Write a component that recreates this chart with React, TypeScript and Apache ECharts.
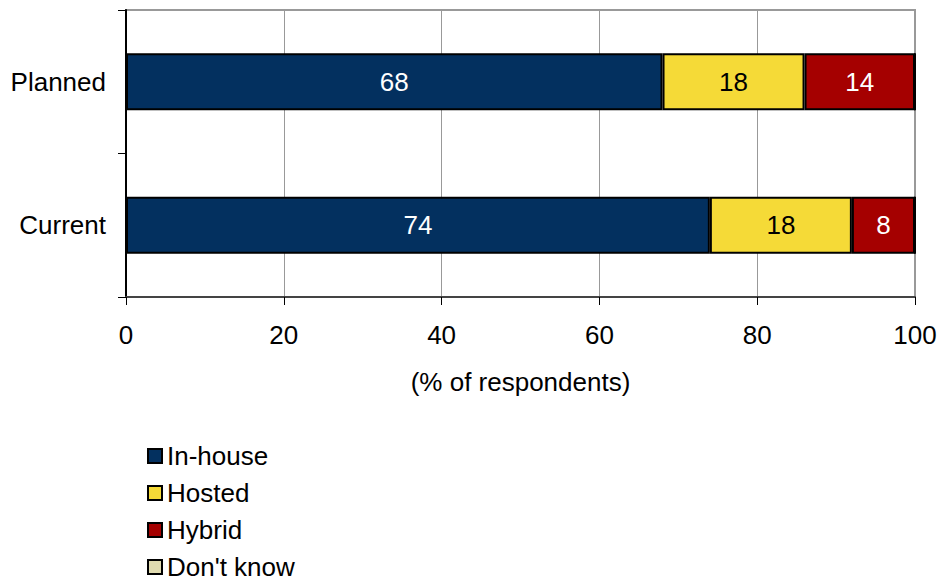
import React, { useEffect, useRef } from "react";
import * as echarts from "echarts";

const categories = ["Current", "Planned"];
const inHouse = [74, 68];
const hosted = [18, 18];
const hybrid = [8, 14];
const dontKnow = [0, 0];
const xTicks = [0, 20, 40, 60, 80, 100];

const FONT = "Liberation Sans, Arial, sans-serif";
const FS = 26;

export default function App() {
  const ref = useRef<HTMLDivElement>(null);
  useEffect(() => {
    const chart = echarts.init(ref.current!, null, { renderer: "svg" });
    const mk = (name: string, data: number[], color: string, labelColor: string) => ({
      name,
      type: "bar",
      stack: "s",
      data,
      barWidth: 57,
      itemStyle: { color, borderColor: "#000", borderWidth: 2 },
      label: {
        show: true,
        position: "inside",
        color: labelColor,
        fontSize: FS,
        fontFamily: FONT,
        formatter: (p: any) => (p.value ? String(p.value) : ""),
      },
    });
    chart.setOption({
      animation: false,
      grid: {
        left: 126,
        right: 27,
        top: 10,
        bottom: 285,
        show: true,
        borderColor: "#999",
        borderWidth: 2,
      },
      xAxis: {
        type: "value",
        min: xTicks[0],
        max: xTicks[xTicks.length - 1],
        interval: 20,
        name: "(% of respondents)",
        nameLocation: "middle",
        nameGap: 72,
        nameTextStyle: { fontSize: FS, fontFamily: FONT, color: "#000" },
        axisLine: { show: true, lineStyle: { color: "#444", width: 2 } },
        axisTick: { show: true, length: 8, lineStyle: { color: "#000" } },
        axisLabel: { fontSize: FS, fontFamily: FONT, color: "#000", margin: 25 },
        splitLine: { show: true, lineStyle: { color: "#999", width: 1 } },
      },
      yAxis: {
        type: "category",
        data: categories,
        axisLine: { show: true, lineStyle: { color: "#000", width: 2 } },
        axisTick: { show: true, length: 8, lineStyle: { color: "#000" } },
        axisLabel: { fontSize: FS, fontFamily: FONT, color: "#000", margin: 20 },
      },
      legend: {
        orient: "vertical",
        left: 147,
        top: 443,
        padding: 0,
        itemWidth: 14,
        itemHeight: 14,
        itemGap: 11,
        icon: "rect",
        textStyle: { fontSize: FS, fontFamily: FONT, color: "#000", padding: [0, 0, 0, 0] },
        itemStyle: { borderColor: "#000", borderWidth: 2 },
        data: ["In-house", "Hosted", "Hybrid", "Don't know"],
      },
      series: [
        mk("In-house", inHouse, "#03305F", "#fff"),
        mk("Hosted", hosted, "#F5DA37", "#000"),
        mk("Hybrid", hybrid, "#A50000", "#fff"),
        mk("Don't know", dontKnow, "#E0DBB0", "#000"),
      ],
    });
    return () => chart.dispose();
  }, []);
  return <div ref={ref} style={{ width: 942, height: 582, position: "absolute", left: 0, top: 0 }} />;
}
